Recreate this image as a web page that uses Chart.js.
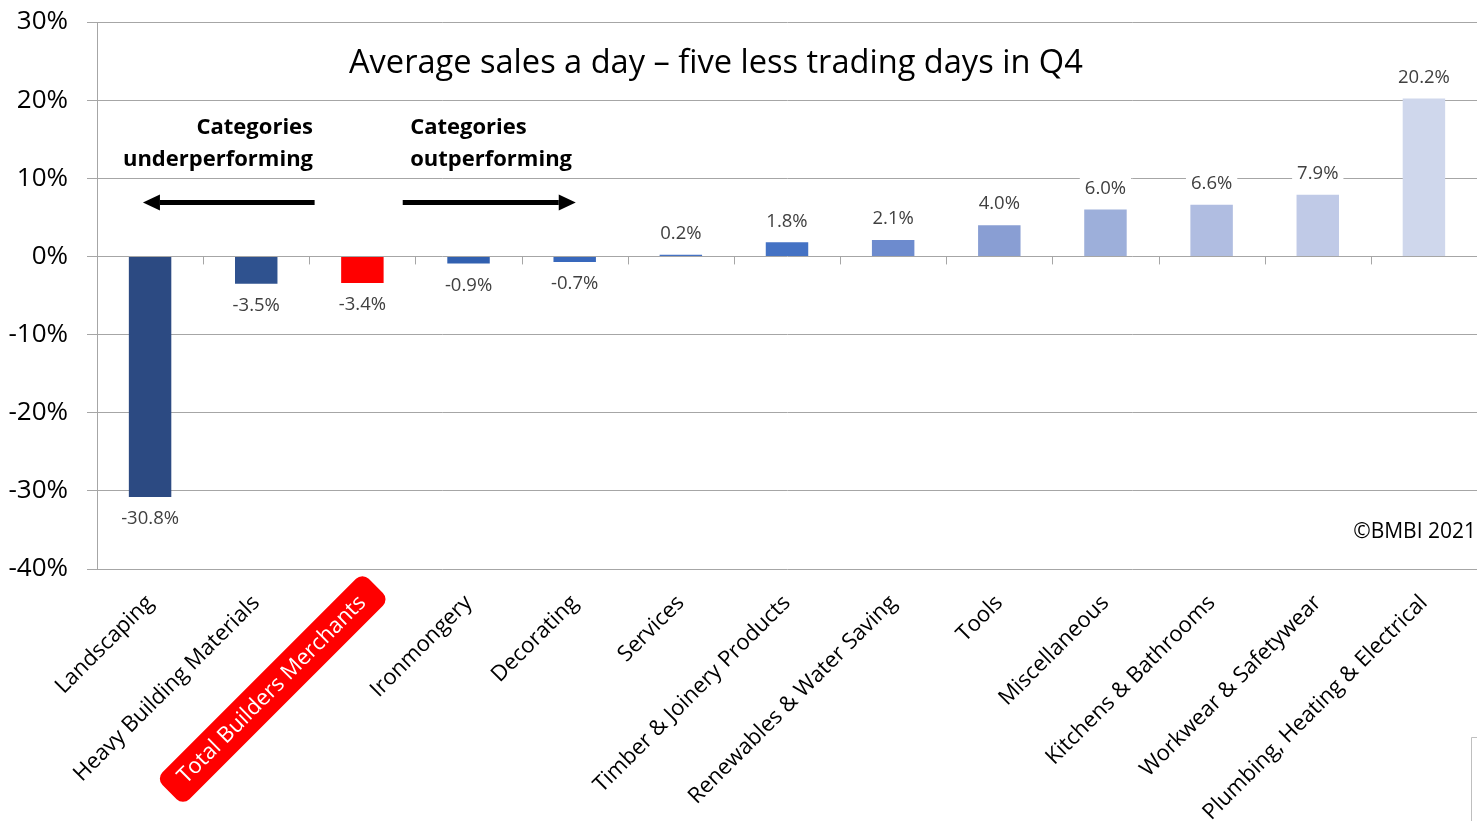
<!DOCTYPE html>
<html>
<head>
<meta charset="utf-8">
<script src="https://cdn.jsdelivr.net/npm/chart.js@4/dist/chart.umd.min.js"></script>
<style>
    html, body { margin: 0; padding: 0; background: #ffffff; }
    #wrap { width: 1477px; height: 821px; }
</style>
</head>
<body>
<div id="wrap"><canvas id="salesChart" width="1477" height="821"></canvas></div>
<script>
// ============================================================================
// DATA
// ============================================================================
const categories = [
    'Landscaping',
    'Heavy Building Materials',
    'Total Builders Merchants',
    'Ironmongery',
    'Decorating',
    'Services',
    'Timber & Joinery Products',
    'Renewables & Water Saving',
    'Tools',
    'Miscellaneous',
    'Kitchens & Bathrooms',
    'Workwear & Safetywear',
    'Plumbing, Heating & Electrical'
];
const changePct = [-30.8, -3.5, -3.4, -0.9, -0.7, 0.2, 1.8, 2.1, 4.0, 6.0, 6.6, 7.9, 20.2];
const barColors = [
    '#2C4A82', '#2F528F', '#FF0000', '#3160B0', '#3868BC', '#4472C4', '#4472C4',
    '#6D8BCE', '#899ED3', '#9DAFDA', '#B0BDE1', '#C0CAE7', '#CFD7EC'
];
const yTicks = [30, 20, 10, 0, -10, -20, -30, -40];
const highlightIndex = 2;

const titleText = 'Average sales a day \u2013 five less trading days in Q4';
const underText = ['Categories', 'underperforming'];
const outText = ['Categories', 'outperforming'];
const creditText = '\u00A9BMBI 2021';

const FONT = '"Open Sans", "Liberation Sans", sans-serif';
const GRID = '#A6A6A6';

// ============================================================================
// PLUGINS
// ============================================================================

// red rounded box behind the "Total Builders Merchants" tick label
const highlightLabel = {
    id: 'highlightLabel',
    beforeDraw(chart) {
        const xs = chart.scales.x;
        const items = xs.getLabelItems();
        const item = items[highlightIndex];
        if (!item) return;
        const ctx = chart.ctx;
        ctx.save();
        ctx.translate(item.options.translation[0], item.options.translation[1]);
        ctx.rotate(item.options.rotation);
        ctx.font = item.font.string;
        const w = ctx.measureText(item.label).width;
        ctx.fillStyle = '#FF0000';
        ctx.beginPath();
        ctx.roundRect(-w - 17, item.textOffset - 19, w + 36, 38, 9);
        ctx.fill();
        ctx.restore();
    }
};

// small tick marks on the 0% line between categories
const zeroTicks = {
    id: 'zeroTicks',
    beforeDatasetsDraw(chart) {
        const xs = chart.scales.x;
        const ys = chart.scales.y;
        const ctx = chart.ctx;
        const y0 = ys.getPixelForValue(0);
        ctx.save();
        ctx.strokeStyle = GRID;
        ctx.lineWidth = 1;
        for (let i = 0; i < categories.length - 1; i++) {
            const x = Math.round(xs.getPixelForValue(i + 0.5)) + 0.5;
            ctx.beginPath();
            ctx.moveTo(x, y0);
            ctx.lineTo(x, y0 + 8);
            ctx.stroke();
        }
        ctx.restore();
    }
};

// value labels above / below each bar
const valueLabels = {
    id: 'valueLabels',
    afterDatasetsDraw(chart) {
        const ctx = chart.ctx;
        const meta = chart.getDatasetMeta(0);
        ctx.save();
        ctx.font = '18.5px ' + FONT;
        ctx.textAlign = 'center';
        ctx.textBaseline = 'middle';
        meta.data.forEach((bar, i) => {
            const v = changePct[i];
            const txt = v.toFixed(1) + '%';
            const y = v >= 0 ? bar.y - 21 : bar.y + 22;
            const w = ctx.measureText(txt).width;
            ctx.fillStyle = '#ffffff';
            ctx.fillRect(bar.x - w / 2 - 5, y - 11, w + 10, 22);
            ctx.fillStyle = '#404040';
            ctx.fillText(txt, bar.x, y);
        });
        ctx.restore();
    }
};

function arrow(ctx, xFrom, xTo, y) {
    const dir = xTo > xFrom ? 1 : -1;
    const head = 17;
    ctx.beginPath();
    ctx.moveTo(xFrom, y);
    ctx.lineTo(xTo - dir * head, y);
    ctx.lineWidth = 5;
    ctx.strokeStyle = '#000000';
    ctx.stroke();
    ctx.beginPath();
    ctx.moveTo(xTo, y);
    ctx.lineTo(xTo - dir * head, y - 8);
    ctx.lineTo(xTo - dir * head, y + 8);
    ctx.closePath();
    ctx.fillStyle = '#000000';
    ctx.fill();
}

// title, performance notes, arrows, credit
const annotations = {
    id: 'annotations',
    afterDraw(chart) {
        const xs = chart.scales.x;
        const ys = chart.scales.y;
        const ctx = chart.ctx;
        ctx.save();

        ctx.fillStyle = '#000000';
        ctx.textBaseline = 'middle';
        ctx.font = '32.6px ' + FONT;
        ctx.textAlign = 'center';
        ctx.fillText(titleText, xs.getPixelForValue(5.33), ys.getPixelForValue(24.7));

        ctx.font = 'bold 22px ' + FONT;
        ctx.textAlign = 'right';
        ctx.fillText(underText[0], xs.getPixelForValue(1.535), ys.getPixelForValue(16.5));
        ctx.fillText(underText[1], xs.getPixelForValue(1.535), ys.getPixelForValue(12.4));
        ctx.textAlign = 'left';
        ctx.fillText(outText[0], xs.getPixelForValue(2.45), ys.getPixelForValue(16.5));
        ctx.fillText(outText[1], xs.getPixelForValue(2.45), ys.getPixelForValue(12.4));

        const ya = ys.getPixelForValue(6.9);
        arrow(ctx, xs.getPixelForValue(1.55), xs.getPixelForValue(-0.067), ya);
        arrow(ctx, xs.getPixelForValue(2.38), xs.getPixelForValue(4.01), ya);

        ctx.font = '21px ' + FONT;
        ctx.textAlign = 'right';
        ctx.fillStyle = '#000000';
        ctx.fillText(creditText, chart.width - 1, ys.getPixelForValue(-35.3));

        // corner of a neighbouring box, bottom right
        ctx.strokeStyle = '#BFBFBF';
        ctx.lineWidth = 1;
        ctx.beginPath();
        ctx.moveTo(1471.5, chart.height);
        ctx.lineTo(1471.5, 737.5);
        ctx.lineTo(chart.width, 737.5);
        ctx.stroke();

        ctx.restore();
    }
};

// ============================================================================
// CHART
// ============================================================================
const ctx = document.getElementById('salesChart').getContext('2d');
const chart = new Chart(ctx, {
    type: 'bar',
    data: {
        labels: categories,
        datasets: [{
            data: changePct,
            backgroundColor: barColors,
            borderWidth: 0,
            barPercentage: 0.4,
            categoryPercentage: 1.0
        }]
    },
    options: {
        responsive: false,
        animation: false,
        devicePixelRatio: 1,
        layout: { padding: { top: 22, right: 0, bottom: 0, left: 0 } },
        plugins: {
            legend: { display: false },
            tooltip: { enabled: false },
            title: { display: false }
        },
        scales: {
            x: {
                grid: { display: false, drawTicks: false },
                border: { display: false },
                ticks: {
                    autoSkip: false,
                    minRotation: 45,
                    maxRotation: 45,
                    padding: 21,
                    font: { family: FONT, size: 22 },
                    color: (c) => c.index === highlightIndex ? '#ffffff' : '#000000'
                },
                afterFit(scale) {
                    scale.height = 252;
                    scale.paddingLeft = 0;
                    scale.paddingRight = 0;
                    scale.paddingTop = 0;
                    scale.paddingBottom = 0;
                }
            },
            y: {
                min: -40,
                max: 30,
                afterBuildTicks(scale) {
                    scale.ticks = yTicks.map(v => ({ value: v }));
                },
                grid: { color: GRID, lineWidth: 1, drawTicks: true, tickLength: 10, tickColor: GRID },
                border: { display: true, color: GRID, width: 1 },
                ticks: {
                    padding: 19,
                    font: { family: FONT, size: 26 },
                    color: '#000000',
                    callback: (v) => v + '%'
                },
                afterFit(scale) {
                    scale.width = 97;
                    scale.paddingTop = 0;
                    scale.paddingBottom = 0;
                }
            }
        }
    },
    plugins: [highlightLabel, zeroTicks, valueLabels, annotations]
});
</script>
</body>
</html>
